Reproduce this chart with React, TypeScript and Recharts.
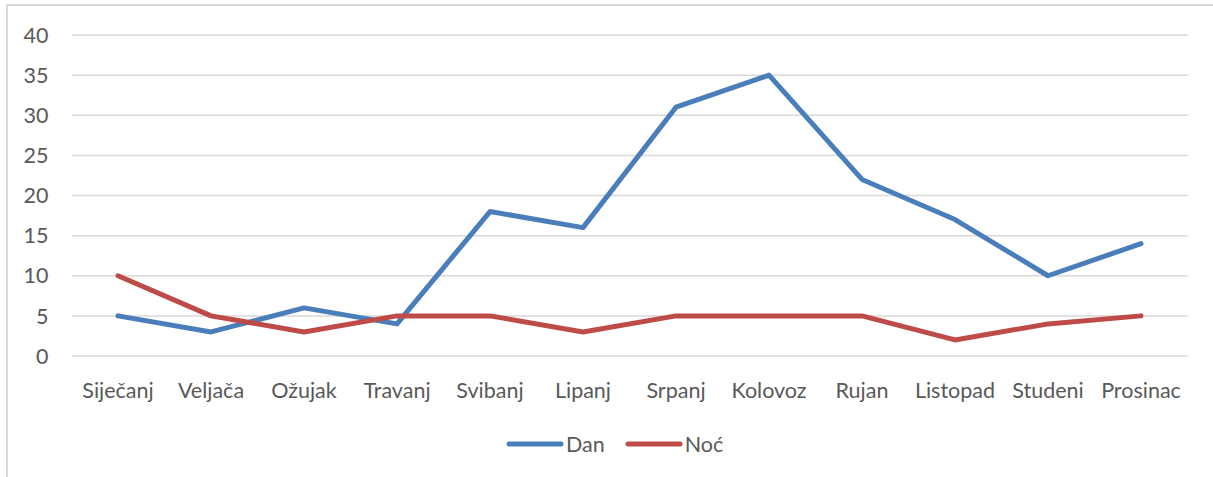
import React from 'react';
import { LineChart, Line, XAxis, YAxis, CartesianGrid, Legend } from 'recharts';

const months = ['Siječanj', 'Veljača', 'Ožujak', 'Travanj', 'Svibanj', 'Lipanj', 'Srpanj', 'Kolovoz', 'Rujan', 'Listopad', 'Studeni', 'Prosinac'];
const dan = [5, 3, 6, 4, 18, 16, 31, 35, 22, 17, 10, 14];
const noc = [10, 5, 3, 5, 5, 3, 5, 5, 5, 2, 4, 5];
const yTicks = [0, 5, 10, 15, 20, 25, 30, 35, 40];

const data = months.map((m, i) => ({ month: m, Dan: dan[i], 'Noć': noc[i] }));

const font = 'Lato, "Liberation Sans", sans-serif';
const textColor = '#595959';

function LegendContent(props: any) {
  const items = props.payload || [];
  return (
    <div style={{ display: 'flex', alignItems: 'center', fontFamily: font, fontSize: 21.5, color: textColor }}>
      {items.map((it: any) => (
        <div key={it.value} style={{ display: 'flex', alignItems: 'center', marginRight: 20 }}>
          <svg width={58} height={10} style={{ display: 'block' }}>
            <line x1={3} y1={5} x2={55} y2={5} stroke={it.color} strokeWidth={5} strokeLinecap="round" />
          </svg>
          <span style={{ marginLeft: 2 }}>{it.value}</span>
        </div>
      ))}
    </div>
  );
}

export default function App() {
  return (
    <div style={{ position: 'absolute', left: 0, top: 0, width: 1213, height: 477, overflow: 'hidden', background: '#fff' }}>
      <div style={{ position: 'absolute', left: 6, top: 4, width: 1300, height: 600, border: '2px solid #d9d9d9' }} />
      <LineChart width={1213} height={477} data={data} margin={{ top: 35, right: 25.5, left: 11.5, bottom: 91 }}>
        <CartesianGrid vertical={false} stroke="#d9d9d9" strokeWidth={1.5} />
        <XAxis
          dataKey="month"
          axisLine={false}
          tickLine={false}
          tickSize={0}
          tickMargin={27}
          height={30}
          padding={{ left: 46.5, right: 46.5 }}
          interval={0}
          tick={{ fill: textColor, fontSize: 21.5, fontFamily: font }}
        />
        <YAxis
          domain={[0, 40]}
          ticks={yTicks}
          width={60}
          axisLine={false}
          tickLine={false}
          tickSize={0}
          tickMargin={23}
          tick={{ fill: textColor, fontSize: 21.5, fontFamily: font }}
        />
        <Legend
          verticalAlign="middle"
          align="center"
          layout="horizontal"
          wrapperStyle={{ top: 431, left: 506, width: 300 }}
          content={<LegendContent />}
        />
        <Line type="linear" dataKey="Dan" stroke="#4a7ebb" strokeWidth={5} dot={false} strokeLinecap="round" strokeLinejoin="round" isAnimationActive={false} />
        <Line type="linear" dataKey="Noć" stroke="#be4b48" strokeWidth={5} dot={false} strokeLinecap="round" strokeLinejoin="round" isAnimationActive={false} />
      </LineChart>
    </div>
  );
}
